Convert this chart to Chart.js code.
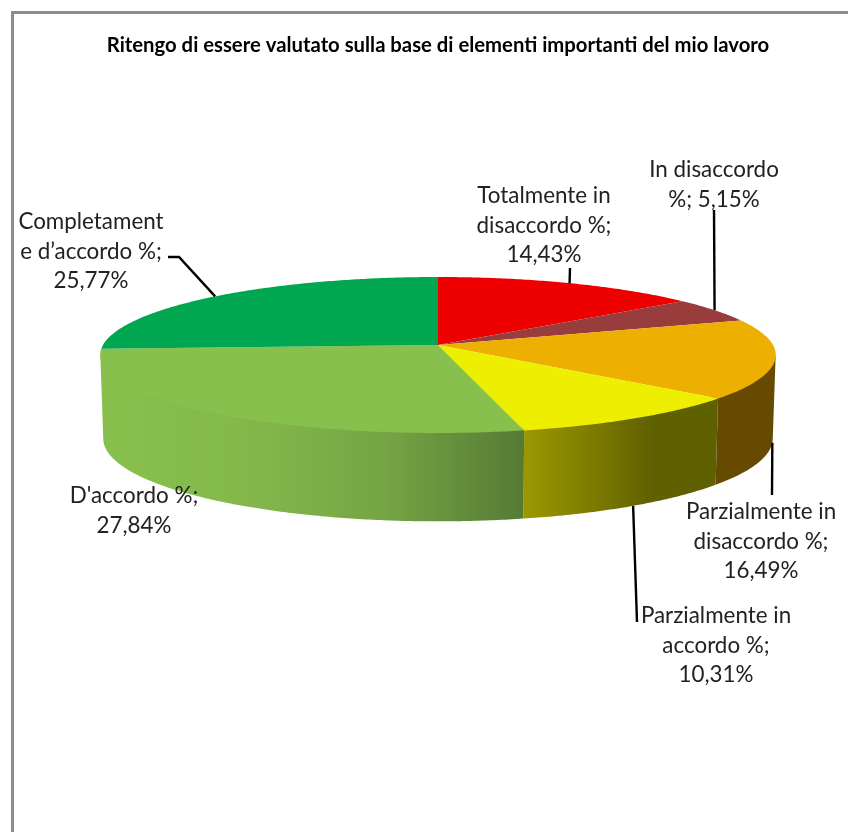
<!DOCTYPE html>
<html>
<head>
<meta charset="utf-8">
<title>Ritengo di essere valutato</title>
<script src="https://cdn.jsdelivr.net/npm/chart.js@4"></script>
<style>
    html, body { margin: 0; padding: 0; background: #fff; }
    #frame { position: absolute; left: 11px; top: 11px; width: 837px; height: 821px;
             border-left: 3px solid #8c8c8c; border-top: 3px solid #8c8c8c; box-sizing: border-box; }
    #wrap { position: absolute; left: 0; top: 0; width: 848px; height: 832px; }
</style>
</head>
<body>
<div id="frame"></div>
<div id="wrap"><canvas id="myChart" width="848" height="832"></canvas></div>
<script>
var chartTitle = "Ritengo di essere valutato sulla base di elementi importanti del mio lavoro";

var categories = [
    "Totalmente in disaccordo %",
    "In disaccordo %",
    "Parzialmente in disaccordo %",
    "Parzialmente in accordo %",
    "D'accordo %",
    "Completamente d\u2019accordo %"
];
var values = [14.43, 5.15, 16.49, 10.31, 27.84, 25.77];
var sliceColors = ["#ee0000", "#983c3c", "#eeb000", "#eeee00", "#88c04e", "#00a650"];

// wall shading, left to right, one list per slice
var wallShades = [
    ["#700000"],
    ["#4a1d1d"],
    ["#654a00"],
    ["#9c9800", "#7f7d00", "#5f6000", "#5f6000"],
    ["#88c04d", "#84b84b", "#76a544", "#557a35"],
    ["#88c04d"]
];

// data labels as Excel wrapped them
var labelLines = [
    ["Totalmente in", "disaccordo %;", "14,43%"],
    ["In disaccordo", "%; 5,15%"],
    ["Parzialmente in", "disaccordo %;", "16,49%"],
    ["Parzialmente in", "accordo %;", "10,31%"],
    ["D'accordo %;", "27,84%"],
    ["Completament", "e d\u2019accordo %;", "25,77%"]
];
var labelCenterX = [544, 714, 761, 716, 134, 91];
var labelFirstY = [196, 170, 512, 616, 496, 222];

// leader lines: points next to the label, the slice end is added from the arc
var leaderStart = [
    [[570, 268]],
    [[714, 210]],
    [[772, 495]],
    [[637, 622]],
    null,
    [[168, 257], [179, 257]]
];
var leaderOnBase = [false, false, true, true, false, false];

// projection of the disc, top face and base
var topFace = { cx: 438, cy: 345, a: 335, b: 76.7, k: 0.128 };
var baseFace = { cx: 438, cy: 428, a: 332, b: 81.4, k: 0.128 };
var wallFrom = 97.4 * Math.PI / 180;
var wallTo = 262.6 * Math.PI / 180;

function project(face, angle) {
    var u = Math.sin(angle);
    var v = Math.cos(angle);
    var w = 1 + face.k * v;
    return { x: face.cx + face.a * u / w, y: face.cy - face.b * v / w };
}

function rimPoints(face, from, to) {
    var pts = [];
    var steps = Math.max(2, Math.ceil((to - from) / 0.01));
    for (var i = 0; i <= steps; i++) {
        pts.push(project(face, from + (to - from) * i / steps));
    }
    return pts;
}

function tracePoints(ctx, pts) {
    pts.forEach(function (p, i) {
        if (i === 0) ctx.moveTo(p.x, p.y);
        else ctx.lineTo(p.x, p.y);
    });
}

var pie3d = {
    id: "pie3d",
    beforeDatasetsDraw: function (chart) {
        var ctx = chart.ctx;
        var arcs = chart.getDatasetMeta(0).data;
        ctx.save();

        // side wall, its upper edge tucked under the top face so no pale seam shows
        arcs.forEach(function (arc, i) {
            var from = Math.max(arc.startAngle + Math.PI / 2, wallFrom);
            var to = Math.min(arc.endAngle + Math.PI / 2, wallTo);
            if (to <= from) return;
            var upper = rimPoints(topFace, from, to).map(function (p) {
                return { x: p.x, y: p.y - 3 };
            });
            var lower = rimPoints(baseFace, from, to).reverse();
            var xs = upper.concat(lower).map(function (p) { return p.x; });
            var grad = ctx.createLinearGradient(Math.min.apply(null, xs), 0, Math.max.apply(null, xs), 0);
            var shades = wallShades[i];
            shades.forEach(function (c, n) {
                grad.addColorStop(shades.length > 1 ? n / (shades.length - 1) : 0, c);
            });
            ctx.beginPath();
            tracePoints(ctx, upper.concat(lower));
            ctx.closePath();
            ctx.fillStyle = grad;
            ctx.fill();
        });

        // top face
        arcs.forEach(function (arc, i) {
            var from = arc.startAngle + Math.PI / 2;
            var to = arc.endAngle + Math.PI / 2;
            ctx.beginPath();
            ctx.moveTo(topFace.cx, topFace.cy);
            rimPoints(topFace, from, to).forEach(function (p) {
                ctx.lineTo(p.x, p.y);
            });
            ctx.closePath();
            ctx.fillStyle = sliceColors[i];
            ctx.fill();
        });

        ctx.restore();
        return false;
    },
    afterDraw: function (chart) {
        var ctx = chart.ctx;
        var arcs = chart.getDatasetMeta(0).data;
        ctx.save();

        // leader lines
        ctx.strokeStyle = "#000";
        ctx.lineWidth = 2.4;
        arcs.forEach(function (arc, i) {
            if (!leaderStart[i]) return;
            var mid = (arc.startAngle + arc.endAngle) / 2 + Math.PI / 2;
            var end = project(leaderOnBase[i] ? baseFace : topFace, mid);
            ctx.beginPath();
            leaderStart[i].forEach(function (p, n) {
                if (n === 0) ctx.moveTo(p[0], p[1]);
                else ctx.lineTo(p[0], p[1]);
            });
            ctx.lineTo(end.x, end.y);
            ctx.stroke();
        });

        // data labels
        ctx.font = "22.4px Lato";
        ctx.fillStyle = "#222";
        ctx.textAlign = "center";
        ctx.textBaseline = "middle";
        labelLines.forEach(function (lines, i) {
            lines.forEach(function (line, n) {
                ctx.fillText(line, labelCenterX[i], labelFirstY[i] + n * 29.3);
            });
        });
        ctx.restore();
    }
};

var myChart = new Chart(document.getElementById("myChart").getContext("2d"), {
    type: "pie",
    data: {
        labels: categories,
        datasets: [{
            data: values,
            backgroundColor: sliceColors,
            borderWidth: 0
        }]
    },
    options: {
        responsive: false,
        animation: false,
        layout: { padding: { left: 28 } },
        plugins: {
            legend: { display: false },
            tooltip: { enabled: false },
            title: {
                display: true,
                text: chartTitle,
                color: "#000",
                font: { family: "Lato", size: 20.3, weight: "bold" },
                padding: { top: 33, bottom: 10 }
            }
        }
    },
    plugins: [pie3d]
});
</script>
</body>
</html>
